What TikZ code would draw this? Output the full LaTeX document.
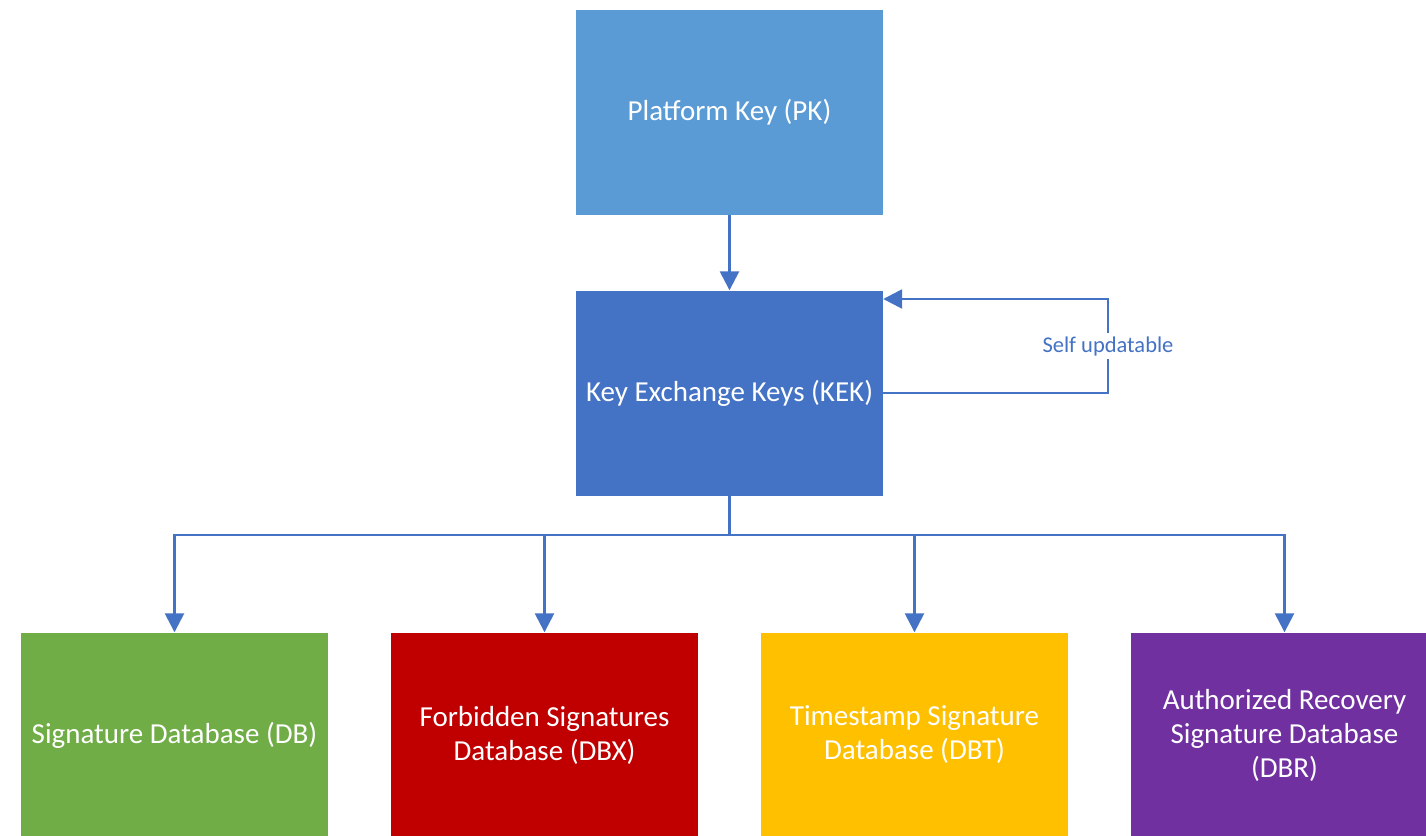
\documentclass[tikz,border=0pt]{standalone}
\usepackage{fontspec}
\setmainfont{Carlito}
\usetikzlibrary{arrows.meta,calc}
\definecolor{pkblue}{HTML}{5B9BD5}
\definecolor{kekblue}{HTML}{4472C4}
\definecolor{dbgreen}{HTML}{70AD47}
\definecolor{dbxred}{HTML}{C00000}
\definecolor{dbtyellow}{HTML}{FFC000}
\definecolor{dbrpurple}{HTML}{7030A0}
\tikzset{
  keybox/.style={rectangle, minimum width=307pt, minimum height=205pt, inner sep=0pt,
    text=white, align=center, font=\fontsize{29}{34}\selectfont},
  conn/.style={draw=kekblue, line width=2.6pt, -{Triangle[width=19pt,length=19pt]}},
  plainconn/.style={draw=kekblue, line width=2.6pt},
  looplabel/.style={fill=white, text=kekblue, inner sep=3pt, font=\fontsize{22.5}{26}\selectfont}
}
\begin{document}
\begin{tikzpicture}[x=1pt,y=-1pt]
\useasboundingbox (0,0) rectangle (1426,835);
\node[keybox, fill=pkblue] (pk) at (729.5,112.5) {Platform Key (PK)};
\node[keybox, fill=kekblue] (kek) at (729.5,393) {Key Exchange Keys (KEK)};
\node[keybox, fill=dbgreen] (db) at (174.5,735) {Signature Database (DB)};
\node[keybox, fill=dbxred] (dbx) at (544.5,735) {Forbidden Signatures\\Database (DBX)};
\node[keybox, fill=dbtyellow] (dbt) at (914.5,735) {Timestamp Signature\\Database (DBT)};
\node[keybox, fill=dbrpurple] (dbr) at (1284.5,735) {Authorized Recovery\\Signature Database\\(DBR)};
\coordinate (bus) at (0,535);
\coordinate (loopx) at (1108,0);
\coordinate (looptop) at (0,299);
\draw[conn] (pk.south) -- (kek.north);
\draw[plainconn] (kek.south) -- (kek.south |- bus);
\draw[conn] (kek.south |- bus) -| (db.north);
\draw[conn] (kek.south |- bus) -| (dbx.north);
\draw[conn] (kek.south |- bus) -| (dbt.north);
\draw[conn] (kek.south |- bus) -| (dbr.north);
\draw[conn] (kek.east) -- (kek.east -| loopx) -- node[looplabel]{Self updatable} (loopx |- looptop) -- (kek.east |- looptop);
\end{tikzpicture}
\end{document}
